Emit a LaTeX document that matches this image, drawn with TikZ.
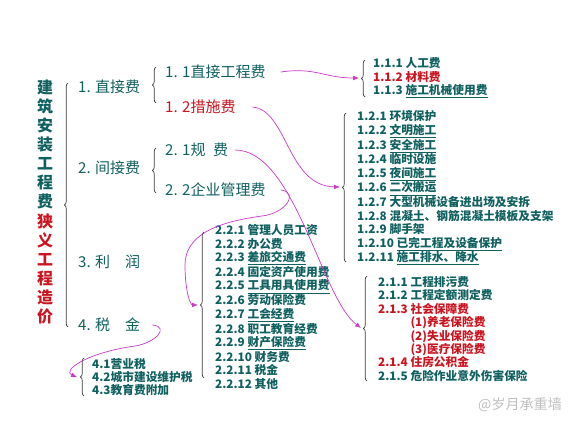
\documentclass[tikz,border=0pt]{standalone}
\usepackage{fontspec}
\newfontfamily\cjk{Noto Sans CJK SC}
\usetikzlibrary{positioning,decorations.pathreplacing,arrows.meta}
\definecolor{costteal}{RGB}{16,96,96}
\definecolor{costred}{RGB}{204,20,32}
\definecolor{linkpink}{RGB}{200,60,200}
\definecolor{bracegray}{RGB}{60,60,60}

\begin{document}
\begin{tikzpicture}[x=0.03cm,y=-0.03cm,
  every node/.style={inner sep=0pt},
  big/.style={anchor=west,text=costteal,font=\cjk\fontsize{12.8}{15}\selectfont},
  item/.style={anchor=west,text=costteal,align=left,font=\cjk\bfseries\fontsize{10}{11.45}\selectfont},
  curly/.style={draw=bracegray,line width=0.6pt,decorate,decoration={brace,amplitude=3pt}},
  link/.style={draw=linkpink,line width=0.6pt,-{Latex[length=5pt,width=4pt]}}]
  \useasboundingbox[fill=white] (0,0) rectangle (582,425);

  % title column
  \node (title) [align=center,text=costteal,font=\cjk\bfseries\fontsize{13.6}{16.3}\selectfont] at (45,202)
    {建\\筑\\安\\装\\工\\程\\费\\\textcolor{costred}{狭}\\\textcolor{costred}{义}\\\textcolor{costred}{工}\\\textcolor{costred}{程}\\\textcolor{costred}{造}\\\textcolor{costred}{价}};
  \draw[curly] (68,327) -- (68,83);

  % first level
  \node (direct) [big] at (78,87) {1. 直接费};
  \node (indirect) [big] at (78,168) {2. 间接费};
  \node (profit) [big] at (78,262) {3. 利　润};
  \node (tax) [big] at (78,325) {4. 税　金};

  % second level
  \draw[curly] (156,103) -- (156,67);
  \draw[curly] (156,193) -- (156,148);
  \node (works) [big] at (165,72) {1. 1直接工程费};
  \node (measures) [big,text=costred] at (165,107) {1. 2措施费};
  \node (fees) [big] at (165,150) {2. 1规\hspace{0.5em}费};
  \node (management) [big] at (165,190) {2. 2企业管理费};

  % item lists
  \node (worksitems) [item] at (373,78)
    {1.1.1 人工费\\\textcolor{costred}{1.1.2 材料费}\\1.1.3 \underline{施工机械使用费}};
  \draw[curly] (365,97) -- (365,60);
  \coordinate (worksbrace) at (359,78);

  \node (measureitems) [item] at (357,188)
    {1.2.1 环境保护\\1.2.2 \underline{文明施工}\\1.2.3 \underline{安全施工}\\1.2.4 临时设施\\
     1.2.5 \underline{夜间施工}\\1.2.6 \underline{二次搬运}\\1.2.7 大型机械设备进出场及安拆\\
     1.2.8 混凝土、钢筋混凝土模板及支架\\1.2.9 脚手架\\1.2.10 \underline{已完工程及设备保护}\\
     1.2.11 \underline{施工排水、降水}};
  \draw[curly] (346,262) -- (346,113);
  \coordinate (measuresbrace) at (340,187);

  \node (feeitems) [item] at (378,329)
    {2.1.1 工程排污费\\2.1.2 工程定额测定费\\\textcolor{costred}{2.1.3 社会保障费}\\
     \textcolor{costred}{\phantom{2.1.3 }(1)养老保险费}\\\textcolor{costred}{\phantom{2.1.3 }(2)失业保险费}\\
     \textcolor{costred}{\phantom{2.1.3 }(3)医疗保险费}\\\textcolor{costred}{2.1.4 住房公积金}\\2.1.5 危险作业意外伤害保险};
  \draw[curly] (367,381) -- (367,276);
  \coordinate (feesbrace) at (361,328);

  \node (managementitems) [item] at (215,307)
    {2.2.1 管理人员工资\\2.2.2 办公费\\2.2.3 \underline{差旅交通费}\\2.2.4 固定资产使用费\\
     2.2.5 \underline{工具用具使用费}\\2.2.6 劳动保险费\\2.2.7 \underline{工会经费}\\2.2.8 职工教育经费\\
     2.2.9 \underline{财产保险费}\\2.2.10 财务费\\2.2.11 税金\\2.2.12 其他};
  \draw[curly] (204,378) -- (204,232);
  \coordinate (managementbrace) at (198,305);

  \node (taxitems) [item] at (92,377) {4.1营业税\\4.2城市建设维护税\\4.3教育费附加};
  \draw[curly] (84,396) -- (84,358);
  \coordinate (taxbrace) at (77,377);

  % links
  \draw[link] ([xshift=0.45cm]works.east) .. controls +(35,-5) and +(-35,0) .. (worksbrace);
  \draw[link] ([xshift=0.5cm]measures.east) .. controls +(35,3) and +(-53,-1) .. (measuresbrace);
  \draw[link] ([xshift=0.2cm]fees.east) .. controls +(60,0) and +(-40,-30) .. (feesbrace);
  \draw[link] ([xshift=0.45cm]management.east) .. controls +(18,2) and +(25,-3) .. (262,216)
    .. controls +(-45,6) and +(0,-30) .. (185,265) .. controls +(0,25) and +(-8,0) .. (managementbrace);
  \draw[link] ([xshift=0.36cm]tax.east) .. controls +(18,2) and +(20,-3) .. (135,346)
    .. controls +(-50,7) and +(-15,-6) .. (taxbrace);

  \node (watermark) [anchor=west,text=black!25,font=\cjk\fontsize{12}{14}\selectfont] at (478,405) {@岁月承重墙};
\end{tikzpicture}
\end{document}
